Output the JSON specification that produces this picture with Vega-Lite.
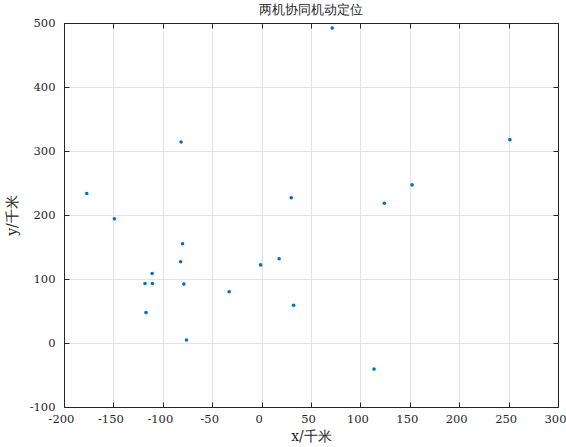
{
  "$schema": "https://vega.github.io/schema/vega-lite/v6.json",
  "autosize": {"type": "none"},
  "width": 494,
  "height": 384,
  "padding": {"left": 64, "top": 23, "right": 8, "bottom": 40},
  "background": "white",
  "title": {"text": "两机协同机动定位", "font": "DejaVu Serif", "fontSize": 12.5, "fontWeight": "normal", "color": "#262626", "offset": 1},
  "config": {
    "view": {"stroke": "#262626", "strokeWidth": 1},
    "axis": {
      "labelFont": "DejaVu Serif", "labelFontSize": 11.5, "labelColor": "#262626",
      "titleFont": "DejaVu Serif", "titleFontSize": 14, "titleFontWeight": "normal", "titleColor": "#262626",
      "domainColor": "#262626", "tickColor": "#262626", "tickSize": -5,
      "gridColor": "#e3e3e3", "gridWidth": 1, "gridOpacity": 1
    }
  },
  "data": {"values": [
    {"x": 71.5, "y": 492},
    {"x": 251.3, "y": 317.7},
    {"x": 30, "y": 227},
    {"x": 124.2, "y": 218.3},
    {"x": 152.3, "y": 247},
    {"x": -1, "y": 122},
    {"x": 17.8, "y": 131.7},
    {"x": 32.4, "y": 59},
    {"x": 113.8, "y": -40.8},
    {"x": -177, "y": 233.5},
    {"x": -149, "y": 194},
    {"x": -81.5, "y": 314},
    {"x": -80, "y": 155},
    {"x": -82, "y": 127},
    {"x": -110.8, "y": 108.7},
    {"x": -118, "y": 93},
    {"x": -110.5, "y": 93},
    {"x": -78.7, "y": 92},
    {"x": -117, "y": 47.5},
    {"x": -76, "y": 4.7},
    {"x": -32.8, "y": 80}
  ]},
  "layer": [
    {
      "mark": {"type": "point", "filled": true, "shape": "circle", "size": 13, "color": "#0072BD", "opacity": 1},
      "encoding": {
        "x": {"field": "x", "type": "quantitative", "scale": {"domain": [-200, 300], "nice": false, "zero": false},
          "axis": {"title": "x/千米", "values": [-200,-150,-100,-50,0,50,100,150,200,250,300], "labelExpr": "datum.value + ''", "labelAlign": "center", "labelOffset": -3, "labelPadding": 11, "titlePadding": 5, "labelFlush": false}},
        "y": {"field": "y", "type": "quantitative", "scale": {"domain": [-100, 500], "nice": false, "zero": false},
          "axis": {"title": "y/千米", "values": [-100,0,100,200,300,400,500], "labelExpr": "datum.value + ''", "labelPadding": 14, "titlePadding": 10, "labelFlush": false}}
      }
    },
    {
      "mark": {"type": "point", "opacity": 0},
      "encoding": {
        "x": {"field": "x", "type": "quantitative", "scale": {"domain": [-200, 300], "nice": false, "zero": false},
          "axis": {"orient": "top", "title": null, "labels": false, "grid": false, "values": [-200,-150,-100,-50,0,50,100,150,200,250,300]}},
        "y": {"field": "y", "type": "quantitative", "scale": {"domain": [-100, 500], "nice": false, "zero": false},
          "axis": {"orient": "right", "title": null, "labels": false, "grid": false, "values": [-100,0,100,200,300,400,500]}}
      }
    }
  ],
  "resolve": {"axis": {"x": "independent", "y": "independent"}}
}
